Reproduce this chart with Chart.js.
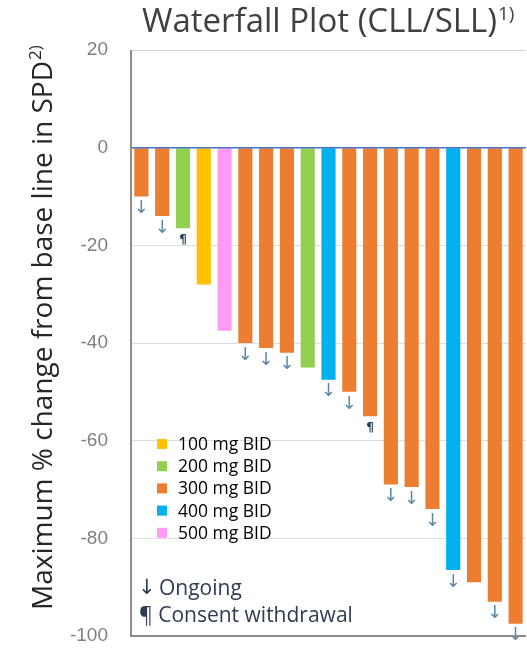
<!DOCTYPE html>
<html>
<head>
<meta charset="utf-8">
<script src="https://cdn.jsdelivr.net/npm/chart.js@4/dist/chart.umd.min.js"></script>
<style>
  html, body { margin: 0; padding: 0; background: #fff; }
  #wrap { position: relative; width: 527px; height: 648px; }
</style>
</head>
<body>
<div id="wrap"><canvas id="chart" width="527" height="648"></canvas></div>
<script>
// patients, one bar each
const categories = ["1", "2", "3", "4", "5", "6", "7", "8", "9", "10",
  "11", "12", "13", "14", "15", "16", "17", "18", "19"];
const doses = [300, 300, 200, 100, 500, 300, 300, 300, 200, 400,
  300, 300, 300, 300, 300, 400, 300, 300, 300];
const changes = [-10, -14, -16.5, -28, -37.5, -40, -41, -42, -45, -47.5,
  -50, -55, -69, -69.5, -74, -86.5, -89, -93, -97.5];
// "↓" ongoing, "¶" consent withdrawal
const markers = ["↓", "↓", "¶", "", "", "↓", "↓", "↓", "", "↓",
  "↓", "¶", "↓", "↓", "↓", "↓", "", "↓", "↓"];
const yTicks = [20, 0, -20, -40, -60, -80, -100];

const doseLevels = [100, 200, 300, 400, 500];
const doseLabels = ["100 mg BID", "200 mg BID", "300 mg BID", "400 mg BID", "500 mg BID"];
const doseColors = ["#FFC000", "#92D050", "#ED7D31", "#00B0F0", "#FF9BF7"];

const FONT = "'Open Sans', 'Noto Sans', sans-serif";

document.addEventListener("readystatechange", (event) => {
  if (event.target.readyState === "complete") {
    chart();
  }
});

function qs(selector, parent = document) {
  return parent.querySelector(selector);
}

function colorFor(dose) {
  return doseColors[doseLevels.indexOf(dose)];
}

// title, axis label, legend, markers, zero line and frame
const extras = {
  id: "extras",
  afterDatasetsDraw(c) {
    const ctx = c.ctx;
    const area = c.chartArea;
    const x = c.scales.x;
    const y = c.scales.y;

    // zero line
    ctx.save();
    ctx.strokeStyle = "#4472C4";
    ctx.lineWidth = 1.5;
    ctx.beginPath();
    ctx.moveTo(area.left, y.getPixelForValue(0));
    ctx.lineTo(area.right, y.getPixelForValue(0));
    ctx.stroke();

    // markers under bars
    ctx.textAlign = "center";
    ctx.textBaseline = "middle";
    markers.forEach((m, i) => {
      if (!m) return;
      const px = x.getPixelForValue(i);
      const py = y.getPixelForValue(changes[i]);
      if (m === "↓") {
        ctx.fillStyle = "#5A88A6";
        ctx.font = "18px 'DejaVu Sans'";
        ctx.fillText(m, px, py + 12);
      } else {
        ctx.fillStyle = "#1F3A5F";
        ctx.font = "bold 12px 'DejaVu Sans'";
        ctx.fillText(m, px, py + 12);
      }
    });

    // frame: light top, darker left and bottom
    ctx.strokeStyle = "#D0D0D0";
    ctx.lineWidth = 1;
    ctx.beginPath();
    ctx.moveTo(area.left, area.top + 0.5);
    ctx.lineTo(area.right, area.top + 0.5);
    ctx.stroke();
    ctx.strokeStyle = "#8C8C8C";
    ctx.lineWidth = 2;
    ctx.beginPath();
    ctx.moveTo(area.left, area.top);
    ctx.lineTo(area.left, area.bottom);
    ctx.lineTo(area.right, area.bottom);
    ctx.stroke();
    ctx.restore();
  },
  afterDraw(c) {
    const ctx = c.ctx;
    ctx.save();

    // title with superscript
    ctx.fillStyle = "#404040";
    ctx.textBaseline = "alphabetic";
    ctx.textAlign = "left";
    ctx.font = "33px " + FONT;
    const title = "Waterfall Plot (CLL/SLL)";
    ctx.fillText(title, 142, 32);
    const tw = ctx.measureText(title).width;
    ctx.font = "19px " + FONT;
    ctx.fillText("1)", 142 + tw + 1, 20);

    // y axis label, rotated
    ctx.save();
    ctx.translate(52, 610);
    ctx.rotate(-Math.PI / 2);
    ctx.fillStyle = "#262626";
    ctx.font = "28px " + FONT;
    const lab = "Maximum % change from base line in SPD";
    ctx.fillText(lab, 0, 0);
    const lw = ctx.measureText(lab).width;
    ctx.font = "17px " + FONT;
    ctx.fillText("2)", lw + 1, -11);
    ctx.restore();

    // dose legend
    ctx.font = "17.5px " + FONT;
    ctx.textBaseline = "middle";
    doseLabels.forEach((t, i) => {
      const ly = 444 + i * 22.2;
      ctx.fillStyle = doseColors[i];
      ctx.fillRect(157, ly - 5, 10, 10);
      ctx.fillStyle = "#000";
      ctx.fillText(t, 178, ly + 1);
    });

    // marker legend
    ctx.fillStyle = "#2F3B52";
    ctx.font = "21px 'DejaVu Sans'";
    ctx.fillText("↓", 138, 589);
    ctx.font = "21px " + FONT;
    ctx.fillText("Ongoing", 159, 589);
    ctx.fillText("¶ Consent withdrawal", 139, 616);
    ctx.restore();
  },
};

function chart() {
  const chart = qs("#chart").getContext("2d");
  new Chart(chart, {
    type: "bar",
    data: {
      labels: categories,
      datasets: [
        {
          data: changes,
          backgroundColor: doses.map(colorFor),
          barPercentage: 0.68,
          categoryPercentage: 1,
        },
      ],
    },
    options: {
      responsive: false,
      animation: false,
      layout: { padding: { top: 50, bottom: 12, right: 1, left: 0 } },
      plugins: {
        legend: { display: false },
        tooltip: { enabled: false },
      },
      scales: {
        x: {
          display: false,
        },
        y: {
          min: -100,
          max: 20,
          afterBuildTicks: (s) => {
            s.ticks = yTicks.map((v) => ({ value: v }));
          },
          afterFit: (s) => {
            s.width = 131;
          },
          grid: {
            color: "#DDDDDD",
            drawTicks: true,
            tickLength: 23,
            tickColor: "rgba(0,0,0,0)",
          },
          border: { display: false },
          ticks: {
            color: "#808080",
            padding: 0,
            font: { family: "'Liberation Sans', Arial, sans-serif", size: 19 },
          },
        },
      },
    },
    plugins: [extras],
  });
}
</script>
</body>
</html>
